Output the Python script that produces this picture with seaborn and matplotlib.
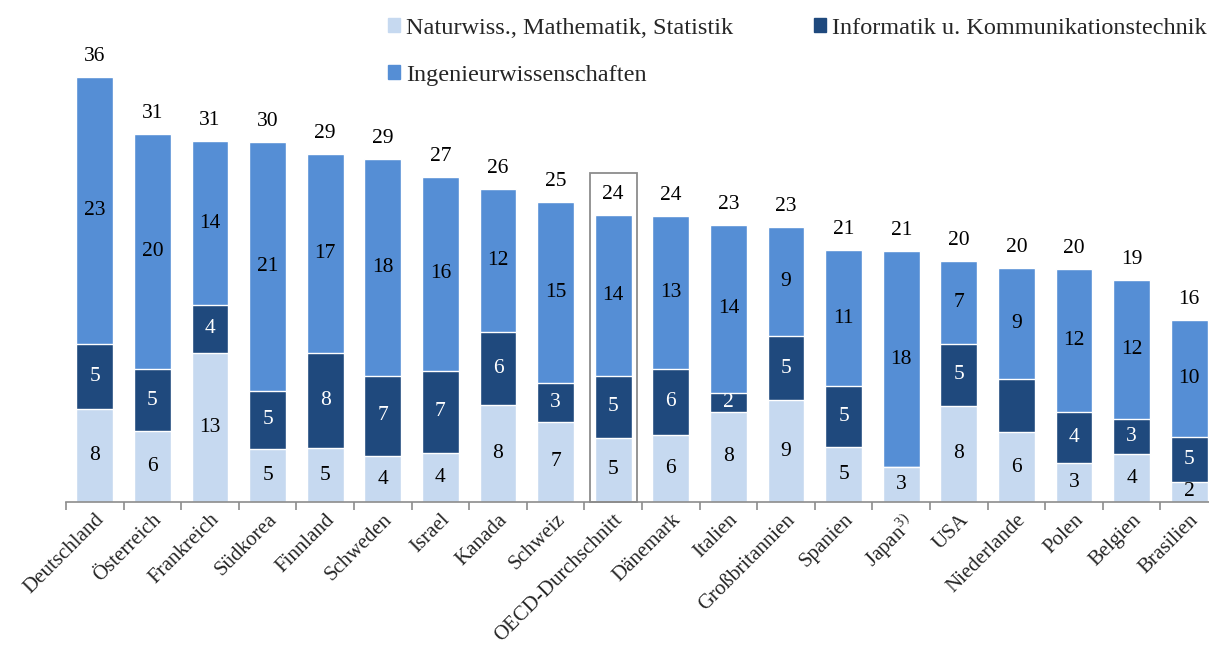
import numpy as np
import pandas as pd
import seaborn as sns
import matplotlib.pyplot as plt
from matplotlib.patches import Patch, Rectangle

# --- data (labels as printed) ---
countries = ['Deutschland', 'Österreich', 'Frankreich', 'Südkorea', 'Finnland', 'Schweden',
             'Israel', 'Kanada', 'Schweiz', 'OECD-Durchschnitt', 'Dänemark', 'Italien',
             'Großbritannien', 'Spanien', r'Japan$^{\mathrm{3)}}$', 'USA', 'Niederlande',
             'Polen', 'Belgien', 'Brasilien']
natur = [7.85, 5.94, 12.55, 4.43, 4.51, 3.84, 4.09, 8.13, 6.76, 5.4, 5.66, 7.6, 8.55, 4.6, 2.9,
         8.1, 5.86, 3.25, 4.0, 1.68]
ikt = [5.43, 5.2, 4.03, 4.93, 8.0, 6.78, 6.95, 6.16, 3.24, 5.2, 5.49, 1.57, 5.38, 5.13, 0.0,
       5.15, 4.48, 4.29, 2.97, 3.8]
ingenieur = [22.4, 19.75, 13.7, 20.84, 16.7, 18.2, 16.24, 12.0, 15.2, 13.5, 12.86, 14.1, 9.16,
             11.4, 18.2, 6.95, 9.33, 12.04, 11.68, 9.83]

natur_lbl = ['8', '6', '13', '5', '5', '4', '4', '8', '7', '5', '6', '8', '9', '5', '3', '8', '6', '3', '4', '2']
ikt_lbl = ['5', '5', '4', '5', '8', '7', '7', '6', '3', '5', '6', '2', '5', '5', '', '5', '', '4', '3', '5']
ing_lbl = ['23', '20', '14', '21', '17', '18', '16', '12', '15', '14', '13', '14', '9', '11', '18', '7', '9',
           '12', '12', '10']
total_lbl = ['36', '31', '31', '30', '29', '29', '27', '26', '25', '24', '24', '23', '23', '21', '21', '20',
             '20', '20', '19', '16']

series_names = ['Naturwiss., Mathematik, Statistik', 'Informatik u. Kommunikationstechnik',
                'Ingenieurwissenschaften']
C_NAT = '#C6D9F0'
C_IKT = '#1F497D'
C_ING = '#558ED5'

df = pd.DataFrame({'land': countries, 'nat': natur, 'ikt': ikt, 'ing': ingenieur})
df['cum_ikt'] = df['nat'] + df['ikt']
df['cum_ing'] = df['cum_ikt'] + df['ing']

# --- style ---
sns.set_theme(style='white')
plt.rcParams['font.family'] = ['Liberation Serif', 'DejaVu Serif']
plt.rcParams['mathtext.fontset'] = 'custom'
plt.rcParams['mathtext.rm'] = 'Liberation Serif'

fig = plt.figure(figsize=(12.09, 6.5), dpi=100)
ax = fig.add_axes([66 / 1209, 148 / 650, 1152 / 1209, 462 / 650])

# stacked bars: draw cumulative heights, tallest first
W = 0.64
sns.barplot(data=df, x='land', y='cum_ing', color=C_ING, width=W, saturation=1, ax=ax)
sns.barplot(data=df, x='land', y='cum_ikt', color=C_IKT, width=W, saturation=1, ax=ax)
sns.barplot(data=df, x='land', y='nat', color=C_NAT, width=W, saturation=1, ax=ax)

ax.set_xlim(-0.5, len(countries) - 0.5)
ax.set_ylim(0, 38.8)
ax.set_xlabel('')
ax.set_ylabel('')
ax.set_yticks([])

# segment labels
FS = 15.5
for i, row in df.iterrows():
    if natur_lbl[i]:
        ax.text(i, row['nat'] / 2, natur_lbl[i], ha='center', va='center', fontsize=FS, color='black')
    if ikt_lbl[i]:
        ax.text(i, row['nat'] + row['ikt'] / 2, ikt_lbl[i], ha='center', va='center', fontsize=FS,
                color='white')
    if ing_lbl[i]:
        ax.text(i, row['cum_ikt'] + row['ing'] / 2, ing_lbl[i], ha='center', va='center', fontsize=FS,
                color='black')
    ax.annotate(total_lbl[i], (i, row['cum_ing']), xytext=(0, 8), textcoords='offset points',
                ha='center', va='bottom', fontsize=FS, color='black')

# box around the OECD average
oecd = countries.index('OECD-Durchschnitt')
ax.add_patch(Rectangle((oecd - 0.41, 0), 0.82, df.loc[oecd, 'cum_ing'] + 3.5, fill=False,
                       edgecolor='#8C8C8C', linewidth=1.3, clip_on=False))

# axes: only the bottom line, ticks between categories
for s in ['top', 'right', 'left']:
    ax.spines[s].set_visible(False)
ax.spines['bottom'].set_color('#8C8C8C')
ax.spines['bottom'].set_linewidth(1.2)
ax.set_xticks(np.arange(len(countries)))
ax.set_xticklabels(countries, rotation=45, ha='right', rotation_mode='anchor', fontsize=15)
ax.tick_params(axis='x', which='major', length=0, pad=6)
ax.set_xticks(np.arange(len(countries) + 1) - 0.5, minor=True)
ax.tick_params(axis='x', which='minor', length=6, width=1.2, color='#8C8C8C', bottom=True)

# legend (ordered so two columns read row-wise)
handles = [Patch(color=C_NAT, label=series_names[0]),
           Patch(color=C_ING, label=series_names[2]),
           Patch(color=C_IKT, label=series_names[1])]
fig.legend(handles=handles, loc='upper left', bbox_to_anchor=(388 / 1209, 1 - 18 / 650), ncol=2,
           frameon=False, fontsize=17.5, handlelength=0.5, handleheight=0.5, handletextpad=0.25,
           columnspacing=3.3, labelspacing=1.05, borderpad=0, borderaxespad=0)

plt.savefig('out.png', dpi=100)
